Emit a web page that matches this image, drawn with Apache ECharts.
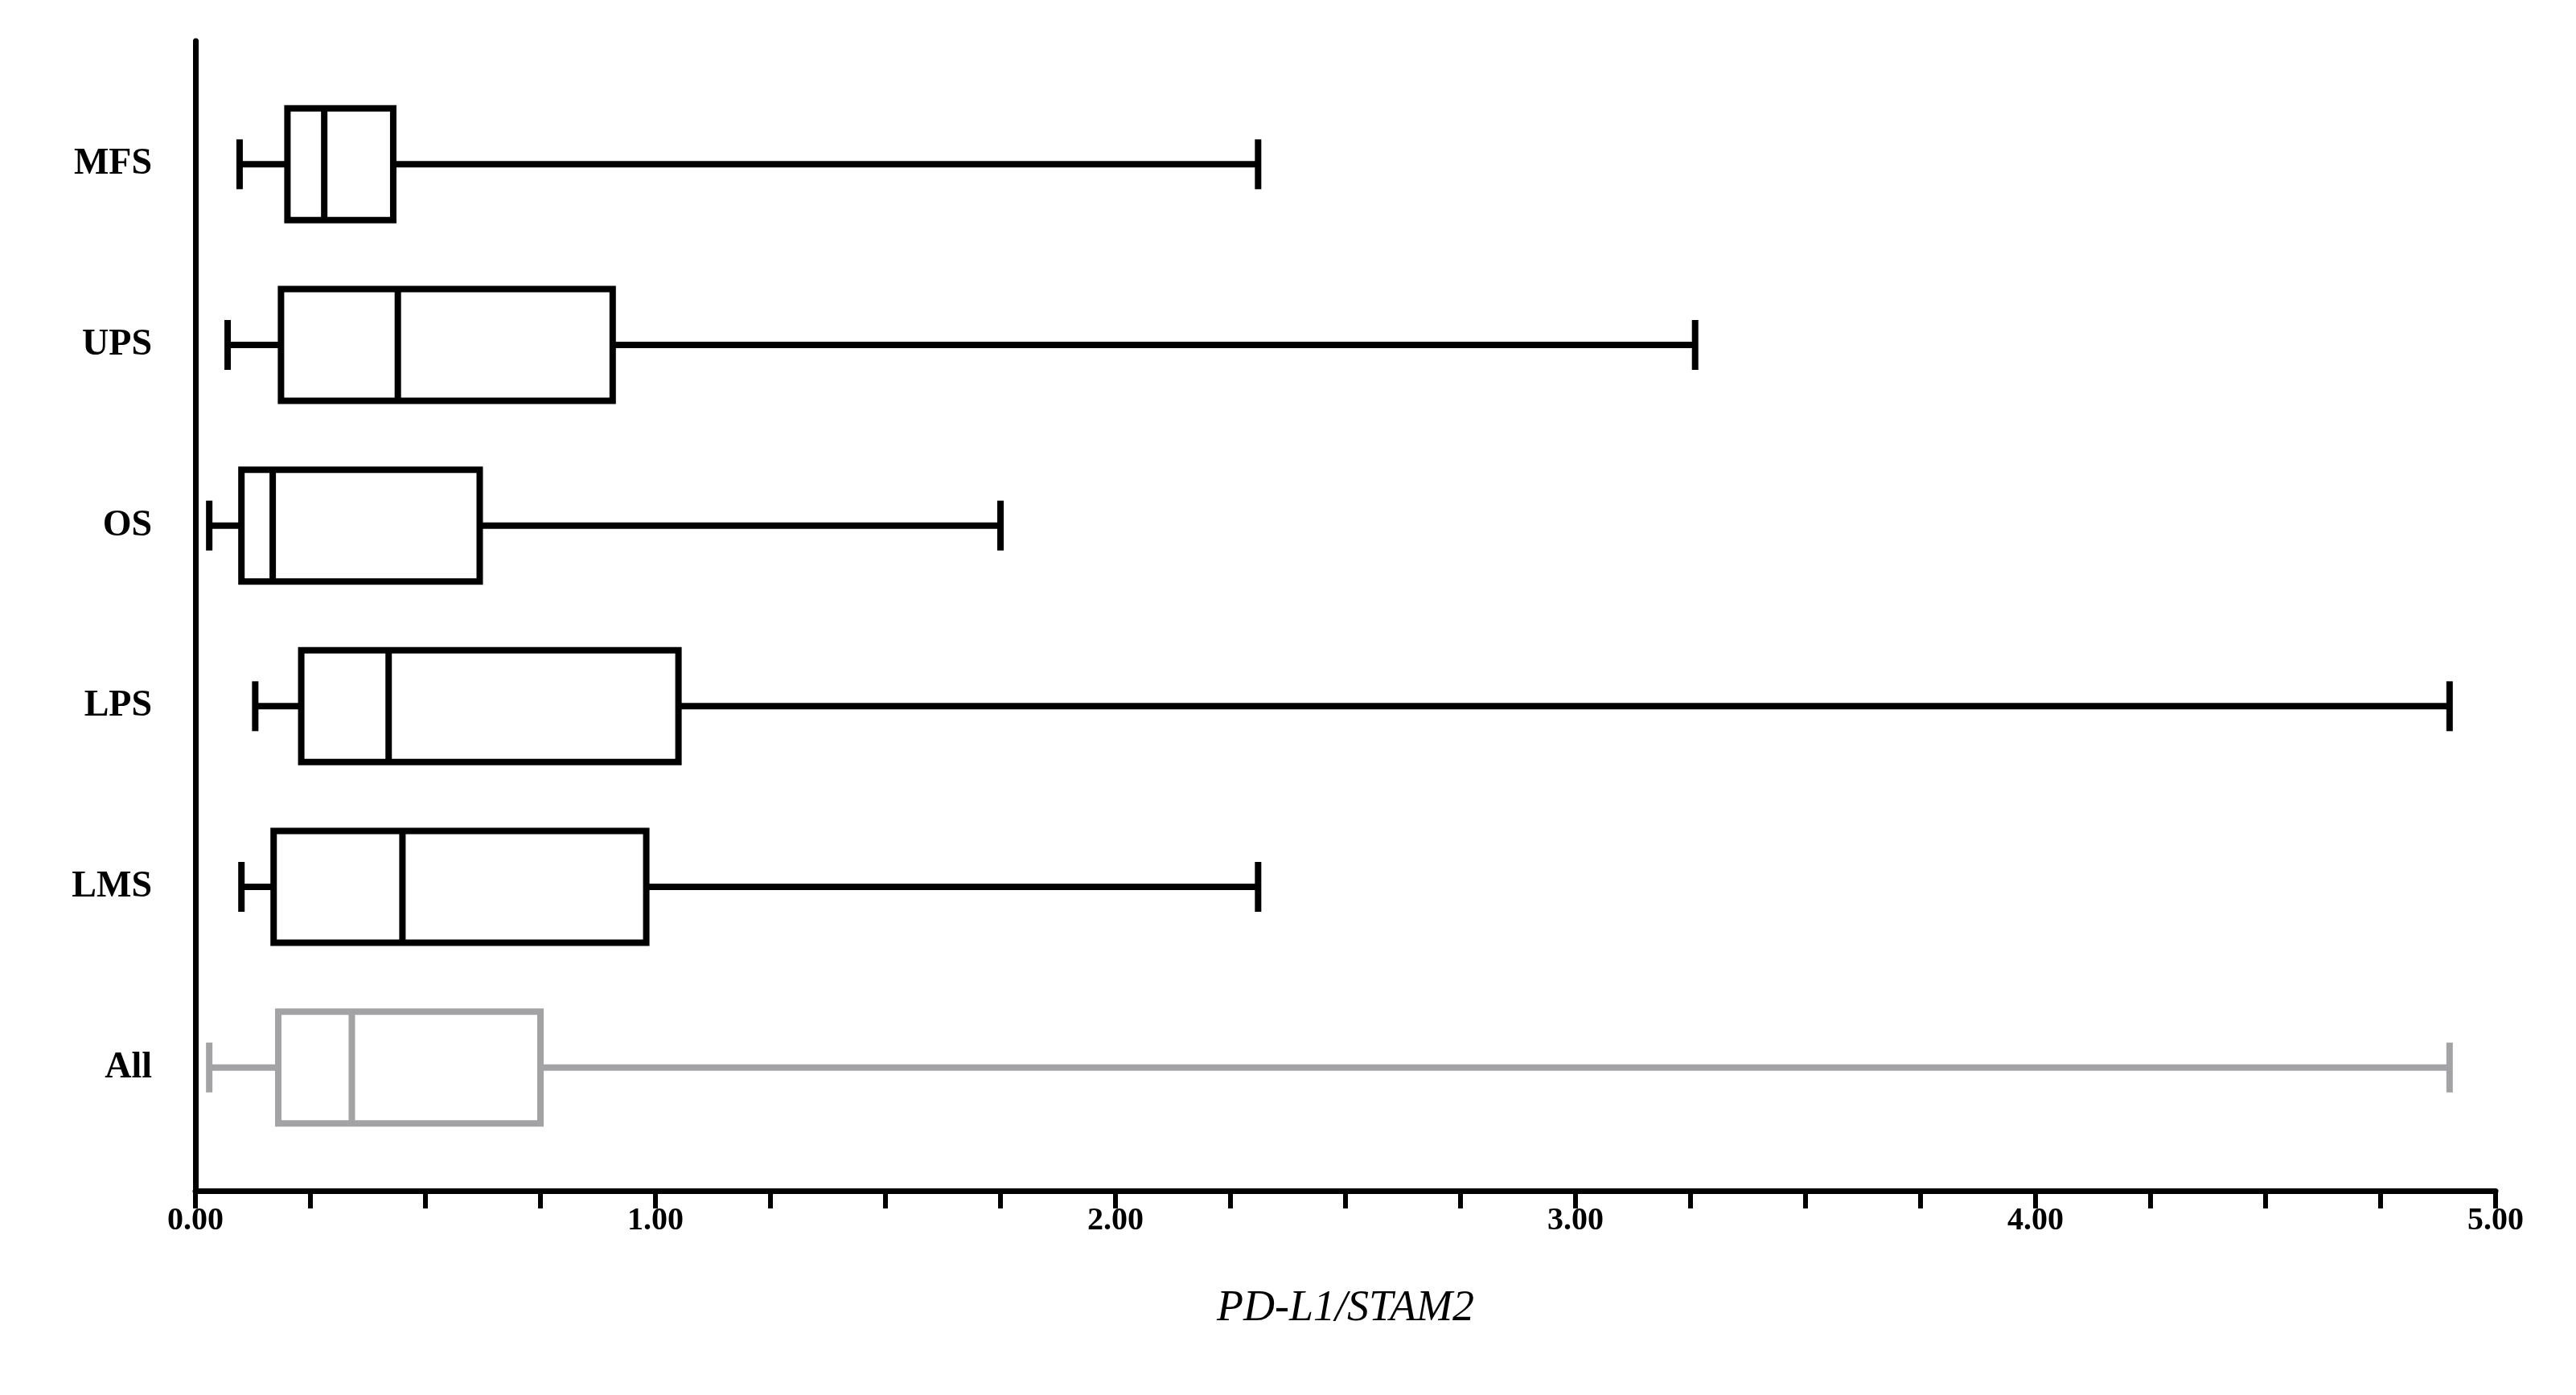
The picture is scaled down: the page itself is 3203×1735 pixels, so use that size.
<!DOCTYPE html>
<html>
<head>
<meta charset="UTF-8">
<script src="https://cdn.jsdelivr.net/npm/echarts@6/dist/echarts.min.js"></script>
<style>html,body{margin:0;background:#fff}#c{width:3203px;height:1735px}</style>
</head>
<body>
<div id="c"></div>
<script>
// categories bottom to top
var groups = ['All', 'LMS', 'LPS', 'OS', 'UPS', 'MFS'];
var mins    = [0.03, 0.10, 0.13, 0.03, 0.07, 0.096];
var q1s     = [0.18, 0.17, 0.23, 0.10, 0.186, 0.20];
var medians = [0.34, 0.45, 0.42, 0.168, 0.44, 0.28];
var q3s     = [0.75, 0.98, 1.05, 0.618, 0.907, 0.43];
var maxs    = [4.90, 2.31, 4.90, 1.75, 3.26, 2.31];
var colors  = ['#a3a3a6', '#000', '#000', '#000', '#000', '#000'];

var data = groups.map(function (g, i) {
  return [i, mins[i], q1s[i], medians[i], q3s[i], maxs[i]];
});

var font = 'Liberation Serif';
var chart = echarts.init(document.getElementById('c'));
chart.setOption({
  animation: false,
  grid: [
    { left: 243, right: 100, top: 51, bottom: 254 },
    { left: 243, right: 100, top: 92, bottom: 295 }
  ],
  xAxis: [
    { gridIndex: 0, type: 'value', min: 0, max: 5, interval: 0.25,
      axisLine: { lineStyle: { color: '#000', width: 7 } },
      axisTick: { length: 22, lineStyle: { color: '#000', width: 6 } },
      splitLine: { show: false },
      axisLabel: { color: '#000', fontFamily: font, fontWeight: 'bold', fontSize: 40, margin: 18,
        formatter: function (v) { return Math.abs(v - Math.round(v)) < 1e-9 ? v.toFixed(2) : ''; } },
      name: 'PD-L1/STAM2', nameLocation: 'middle', nameGap: 120,
      nameTextStyle: { color: '#000', fontFamily: font, fontStyle: 'italic', fontSize: 54 } },
    { gridIndex: 1, type: 'value', min: 0, max: 5, show: false }
  ],
  yAxis: [
    { gridIndex: 0, type: 'value', min: 0, max: 1,
      axisLine: { show: true, lineStyle: { color: '#000', width: 7 } },
      axisTick: { show: false }, axisLabel: { show: false }, splitLine: { show: false } },
    { gridIndex: 1, type: 'category', data: groups,
      axisLine: { show: false }, axisTick: { show: false },
      axisLabel: { color: '#000', fontFamily: font, fontWeight: 'bold', fontSize: 46, margin: 54 } }
  ],
  series: [{
    type: 'custom', xAxisIndex: 1, yAxisIndex: 1, data: data,
    renderItem: function (params, api) {
      var i = api.value(0);
      var c = colors[i];
      var y = api.coord([0, i])[1];
      var px = function (k) { return api.coord([api.value(k), i])[0]; };
      var x0 = px(1), a = px(2), m = px(3), b = px(4), x1 = px(5);
      var h = 139, cap = 31, lw = 8;
      var st = { stroke: c, lineWidth: lw, fill: null };
      return { type: 'group', children: [
        { type: 'line', shape: { x1: x0, y1: y, x2: a, y2: y }, style: st },
        { type: 'line', shape: { x1: b, y1: y, x2: x1, y2: y }, style: st },
        { type: 'line', shape: { x1: x0, y1: y - cap, x2: x0, y2: y + cap }, style: st },
        { type: 'line', shape: { x1: x1, y1: y - cap, x2: x1, y2: y + cap }, style: st },
        { type: 'rect', shape: { x: a, y: y - h / 2, width: b - a, height: h }, style: { stroke: c, lineWidth: lw, fill: '#fff' } },
        { type: 'line', shape: { x1: m, y1: y - h / 2, x2: m, y2: y + h / 2 }, style: st }
      ] };
    }
  }]
});
</script>
</body>
</html>
